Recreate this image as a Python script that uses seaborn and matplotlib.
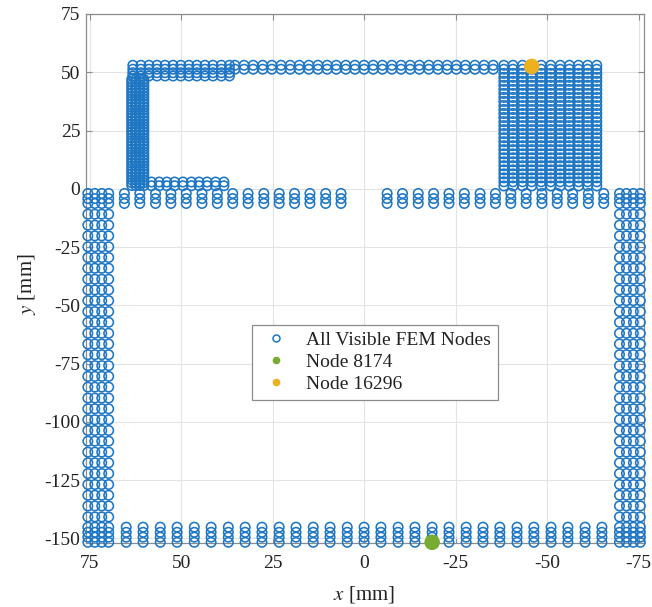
import itertools
import numpy as np
import pandas as pd
import matplotlib
matplotlib.use("Agg")
import matplotlib.pyplot as plt
from matplotlib.lines import Line2D
import seaborn as sns

# ---- data (mm) ----
side_cols = [75.5, 73.6, 71.7, 69.8, -69.8, -71.7, -73.6, -75.5]
side_rows = [-2.0, -4.2, -6.3, -10.9, -15.6, -20.2, -24.9, -29.5, -34.1, -38.8,
             -43.4, -48.0, -52.7, -57.3, -62.0, -66.6, -71.2, -75.9, -80.5, -85.1,
             -89.8, -94.4, -99.1, -103.7, -108.3, -113.0, -117.6, -122.2, -126.9,
             -131.5, -136.1, -140.8, -145.2, -147.4, -149.5, -151.7]

top_group_x = [65.5, 61.3, 57.0, 52.8, 48.6, 44.3, 40.1, 35.9, 31.7, 27.4, 23.2,
               19.0, 14.8, 10.5, 6.3, -6.3, -10.5, -14.8, -19.0, -23.2, -27.4,
               -31.7, -35.9, -40.1, -44.3, -48.6, -52.8, -57.0, -61.3, -65.5]
top_group_rows = [-2.0, -4.2, -6.3]

bottom_group_x = [65.0, 60.4, 55.7, 51.1, 46.4, 41.8, 37.1, 32.5, 27.9, 23.2, 18.6,
                  13.9, 9.3, 4.6, 0.0, -4.6, -9.3, -13.9, -18.6, -23.2, -27.9,
                  -32.5, -37.1, -41.8, -46.4, -51.1, -55.7, -60.4, -65.0]
bottom_group_rows = [-145.2, -147.4, -149.5, -151.7]

bar_x = [35.3, 32.8, 30.3, 27.7, 25.2, 22.7, 20.2, 17.7, 15.1, 12.6, 10.1, 7.6,
         5.0, 2.5, 0.0, -2.5, -5.0, -7.6, -10.1, -12.6, -15.1, -17.7, -20.2,
         -22.7, -25.2, -27.7, -30.3, -32.8, -35.3]
bar_rows = [53.0, 51.3]

c_top_x = [63.2, 61.0, 58.8, 56.6, 54.4, 52.2, 50.1, 47.9, 45.7, 43.5, 41.3, 39.0, 36.8]
c_top_rows = [53.0, 51.3, 49.8, 48.4]

c_web_x = [63.5, 62.4, 61.3, 60.2]
c_web_rows = [47.0, 45.8, 44.6, 43.4, 42.2, 41.0, 39.8, 38.6, 37.4, 36.2, 35.0,
              33.8, 32.6, 31.4, 30.2, 29.0, 27.8, 26.6, 25.4, 24.2, 23.0, 21.8,
              20.6, 19.4, 18.2, 17.0, 15.8, 14.6, 13.4, 12.2, 11.0, 9.8, 8.6,
              7.4, 6.2, 5.0, 3.8, 2.6, 1.4]

c_bottom_x = [58.1, 56.0, 53.9, 51.8, 49.5, 47.2, 45.1, 42.9, 40.6, 38.3]
c_bottom_rows = [2.9, 1.3]

block_x = [-38.2, -40.7, -43.3, -45.8, -48.4, -51.0, -53.6, -56.1, -58.6, -61.1, -63.6]
block_rows = [53.0, 51.3, 49.5, 47.8, 46.1, 44.4, 42.6, 40.9, 39.2, 37.5, 35.7,
              34.0, 32.3, 30.6, 28.8, 27.1, 25.4, 23.7, 21.9, 20.2, 18.5, 16.8,
              15.0, 13.3, 11.6, 9.9, 8.1, 6.4, 4.7, 3.0, 1.2]

node_8174_x = [-18.6]
node_8174_y = [-151.7]
node_16296_x = [-45.8]
node_16296_y = [52.5]

x_ticks = [75, 50, 25, 0, -25, -50, -75]
x_tick_labels = ["75", "50", "25", "0", "-25", "-50", "-75"]
y_ticks = [75, 50, 25, 0, -25, -50, -75, -100, -125, -150]
y_tick_labels = ["75", "50", "25", "0", "-25", "-50", "-75", "-100", "-125", "-150"]

legend_labels = ["All Visible FEM Nodes", "Node 8174", "Node 16296"]

# ---- build node table ----
components = [(side_cols, side_rows), (top_group_x, top_group_rows),
              (bottom_group_x, bottom_group_rows), (bar_x, bar_rows),
              (c_top_x, c_top_rows), (c_web_x, c_web_rows),
              (c_bottom_x, c_bottom_rows), (block_x, block_rows)]
pts = []
for xs, ys in components:
    pts.extend(itertools.product(xs, ys))
nodes = pd.DataFrame(pts, columns=["x", "y"])

BLUE = "#1f77c4"
GREEN = "#77AC30"
ORANGE = "#EDB120"

sns.set_theme(style="white")
plt.rcParams["font.family"] = ["Liberation Serif", "DejaVu Serif"]
plt.rcParams["mathtext.fontset"] = "stix"

fig = plt.figure(figsize=(6.52, 6.07), dpi=100)
ax = fig.add_axes([86 / 652, 1 - 543 / 607, 558 / 652, 529 / 607])

sns.scatterplot(data=nodes, x="x", y="y", ax=ax, marker="o", s=46,
                facecolor="none", edgecolor=BLUE, linewidth=1.15,
                clip_on=False, legend=False, zorder=3)
sns.scatterplot(x=node_8174_x, y=node_8174_y, ax=ax, marker="o", s=125,
                color=GREEN, edgecolor="none", clip_on=False, legend=False, zorder=4)
sns.scatterplot(x=node_16296_x, y=node_16296_y, ax=ax, marker="o", s=125,
                color=ORANGE, edgecolor="none", clip_on=False, legend=False, zorder=4)

ax.set_xlim(76, -76.5)
ax.set_ylim(-152, 75)
ax.set_xticks(x_ticks)
ax.set_xticklabels(x_tick_labels)
ax.set_yticks(y_ticks)
ax.set_yticklabels(y_tick_labels)

ax.grid(True, color="#e3e3e3", linewidth=0.8, zorder=0)
ax.set_axisbelow(True)
for sp in ax.spines.values():
    sp.set_visible(True)
    sp.set_color("#8c8c8c")
    sp.set_linewidth(0.9)

ax.tick_params(axis="both", which="major", direction="in", length=4, width=0.8,
               color="#8c8c8c", labelsize=14, labelcolor="#222222",
               top=True, right=True, bottom=True, left=True)
ax.tick_params(axis="x", pad=9)
ax.tick_params(axis="y", pad=4)

ax.set_xlabel(r"$x$ [mm]", fontsize=15, color="#222222")
ax.set_ylabel(r"$y$ [mm]", fontsize=15, color="#222222")
ax.xaxis.set_label_coords(0.498, -0.078)
ax.yaxis.set_label_coords(-0.086, 0.49)

handles = [
    Line2D([], [], linestyle="none", marker="o", markersize=5,
           markerfacecolor="none", markeredgecolor=BLUE, markeredgewidth=1.1),
    Line2D([], [], linestyle="none", marker="o", markersize=4.5,
           markerfacecolor=GREEN, markeredgecolor=GREEN),
    Line2D([], [], linestyle="none", marker="o", markersize=4.5,
           markerfacecolor=ORANGE, markeredgecolor=ORANGE),
]
leg = ax.legend(handles, legend_labels, loc="center",
                bbox_to_anchor=(0.518, 0.342), fontsize=14,
                frameon=True, fancybox=False, framealpha=1,
                edgecolor="#8c8c8c", labelspacing=0.22, handletextpad=0.7,
                handlelength=1.7, borderpad=0.35, borderaxespad=0)
leg.get_frame().set_linewidth(0.9)
for t in leg.get_texts():
    t.set_color("#222222")

fig.savefig("out.png", dpi=100)
